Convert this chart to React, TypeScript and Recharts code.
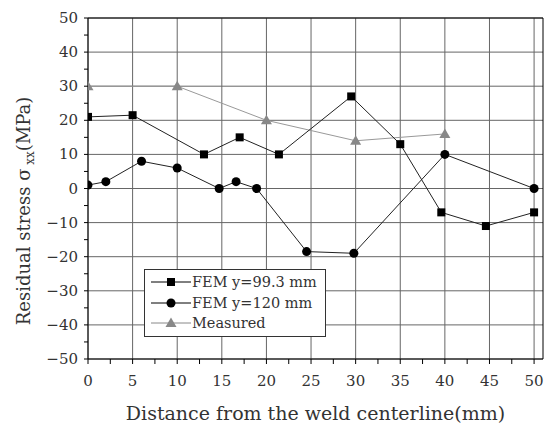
import { CartesianGrid, Legend, Line, LineChart, XAxis, YAxis } from 'recharts';

// FEM y=99.3 mm
const femAX = [0, 5, 13, 17, 21.4, 29.5, 35, 39.6, 44.6, 50];
const femAY = [21, 21.5, 10, 15, 10, 27, 13, -7, -11, -7];
// FEM y=120 mm
const femBX = [0, 2, 6, 10, 14.7, 16.6, 18.9, 24.5, 29.8, 40, 50];
const femBY = [1, 2, 8, 6, 0, 2, 0, -18.5, -19, 10, 0];
// Measured
const measX = [0, 10, 20, 30, 40];
const measY = [30, 30, 20, 14, 16];

const xMajor = [0, 5, 10, 15, 20, 25, 30, 35, 40, 45, 50];
const xMinor = [0, 2.5, 5, 7.5, 10, 12.5, 15, 17.5, 20, 22.5, 25, 27.5, 30, 32.5, 35, 37.5, 40, 42.5, 45, 47.5, 50];
const yMajor = [-50, -40, -30, -20, -10, 0, 10, 20, 30, 40, 50];
const yMinor = [-50, -45, -40, -35, -30, -25, -20, -15, -10, -5, 0, 5, 10, 15, 20, 25, 30, 35, 40, 45, 50];

const seriesA = femAX.map((x, i) => ({ x, y: femAY[i] }));
const seriesB = femBX.map((x, i) => ({ x, y: femBY[i] }));
const seriesM = measX.map((x, i) => ({ x, y: measY[i] }));

const FONT = '"DejaVu Serif", serif';
const fmt = (v: number) => (v < 0 ? `\u2212${Math.abs(v)}` : `${v}`);

const BottomTick = (p: any) => {
    const v = p.payload.value;
    const major = v % 5 === 0;
    return (
        <g>
            <line x1={p.x} x2={p.x} y1={p.y} y2={p.y + 5} stroke="#000" />
            {major && (
                <text x={p.x} y={p.y + 27} textAnchor="middle" fontSize={15} fontFamily={FONT} fill="#333">
                    {v}
                </text>
            )}
        </g>
    );
};

const TopTick = (p: any) => <line x1={p.x} x2={p.x} y1={p.y} y2={p.y + 5} stroke="#000" />;

const LeftTick = (p: any) => {
    const v = p.payload.value;
    return (
        <g>
            <line x1={p.x - 4} x2={p.x} y1={p.y} y2={p.y} stroke="#000" />
            {v % 10 === 0 && (
                <text x={p.x - 10} y={p.y + 5} textAnchor="end" fontSize={15} fontFamily={FONT} fill="#333">
                    {fmt(v)}
                </text>
            )}
        </g>
    );
};

const RightTick = (p: any) => <line x1={p.x} x2={p.x + 4} y1={p.y} y2={p.y} stroke="#000" />;

const square = (p: any) => (
    <rect key={`s${p.index}`} x={p.cx - 4} y={p.cy - 4} width={8} height={8} fill="#000" />
);
const circle = (p: any) => <circle key={`c${p.index}`} cx={p.cx} cy={p.cy} r={4.5} fill="#000" />;
const triangle = (p: any) => (
    <path
        key={`t${p.index}`}
        d={`M${p.cx},${p.cy - 5.5} L${p.cx + 5.5},${p.cy + 4} L${p.cx - 5.5},${p.cy + 4} Z`}
        fill="#888"
    />
);

const YLabel = () => (
    <text
        x={30}
        y={211}
        transform="rotate(-90 30 211)"
        textAnchor="middle"
        fontSize={18}
        fontFamily={FONT}
        fill="#333"
    >
        Residual stress σ<tspan fontSize={12} dy={4}> xx</tspan>
        <tspan dy={-4}>(MPa)</tspan>
    </text>
);

const legendItems = [
    { label: 'FEM y=99.3 mm', color: '#000', marker: 'square' },
    { label: 'FEM y=120 mm', color: '#000', marker: 'circle' },
    { label: 'Measured', color: '#888', marker: 'triangle' },
];

const LegendBox = () => (
    <div
        style={{
            border: '1px solid #333',
            background: '#fff',
            width: 174,
            padding: '2px 0 2px 6px',
            fontFamily: FONT,
            fontSize: 14.5,
            color: '#333',
        }}
    >
        {legendItems.map((it) => (
            <div key={it.label} style={{ display: 'flex', alignItems: 'center', height: 20.5 }}>
                <svg width={40} height={14} style={{ marginRight: 1 }}>
                    <line x1={0} x2={40} y1={7} y2={7} stroke={it.color} strokeWidth={1} />
                    {it.marker === 'square' && <rect x={16} y={3} width={8} height={8} fill="#000" />}
                    {it.marker === 'circle' && <circle cx={20} cy={7} r={4.5} fill="#000" />}
                    {it.marker === 'triangle' && <path d="M20,1.5 L25.5,11 L14.5,11 Z" fill="#888" />}
                </svg>
                <span>{it.label}</span>
            </div>
        ))}
    </div>
);

export default function App() {
    return (
        <div style={{ position: 'absolute', left: 0, top: 0, width: 553, height: 423, background: '#fff' }}>
            <LineChart width={553} height={423} margin={{ top: 17, right: 0, bottom: 0, left: 0 }}>
                <CartesianGrid
                    stroke="#666"
                    strokeWidth={1}
                    verticalValues={xMajor}
                    horizontalValues={yMajor}
                />
                <XAxis
                    dataKey="x"
                    type="number"
                    domain={[0, 51]}
                    ticks={xMinor}
                    interval={0}
                    height={64}
                    tickSize={0}
                    tickMargin={0}
                    tickLine={false}
                    tick={BottomTick}
                    axisLine={{ stroke: '#000' }}
                    allowDataOverflow
                    label={{
                        value: 'Distance from the weld centerline(mm)',
                        position: 'insideBottom',
                        offset: 3,
                        fontSize: 19,
                        fontFamily: FONT,
                        fill: '#333',
                    }}
                />
                <XAxis
                    xAxisId="top"
                    orientation="top"
                    type="number"
                    domain={[0, 51]}
                    ticks={xMinor}
                    interval={0}
                    height={1}
                    tickSize={0}
                    tickMargin={0}
                    tickLine={false}
                    tick={TopTick}
                    axisLine={{ stroke: '#000' }}
                    allowDataOverflow
                />
                <YAxis
                    dataKey="y"
                    type="number"
                    domain={[-50, 50]}
                    ticks={yMinor}
                    interval={0}
                    width={88}
                    tickSize={0}
                    tickMargin={0}
                    tickLine={false}
                    tick={LeftTick}
                    axisLine={{ stroke: '#000' }}
                    label={<YLabel />}
                />
                <YAxis
                    yAxisId="right"
                    orientation="right"
                    type="number"
                    domain={[-50, 50]}
                    ticks={yMinor}
                    interval={0}
                    width={10}
                    tickSize={0}
                    tickMargin={0}
                    tickLine={false}
                    tick={RightTick}
                    axisLine={{ stroke: '#000' }}
                />
                <Line
                    data={seriesM}
                    dataKey="y"
                    stroke="#999"
                    strokeWidth={1}
                    dot={triangle}
                    activeDot={false}
                    isAnimationActive={false}
                />
                <Line
                    data={seriesA}
                    dataKey="y"
                    stroke="#222"
                    strokeWidth={1}
                    dot={square}
                    activeDot={false}
                    isAnimationActive={false}
                />
                <Line
                    data={seriesB}
                    dataKey="y"
                    stroke="#222"
                    strokeWidth={1}
                    dot={circle}
                    activeDot={false}
                    isAnimationActive={false}
                />
                <Legend
                    layout="vertical"
                    align="center"
                    verticalAlign="middle"
                    content={<LegendBox />}
                    wrapperStyle={{ left: 144, top: 269, width: 'auto', height: 'auto' }}
                />
            </LineChart>
        </div>
    );
}
